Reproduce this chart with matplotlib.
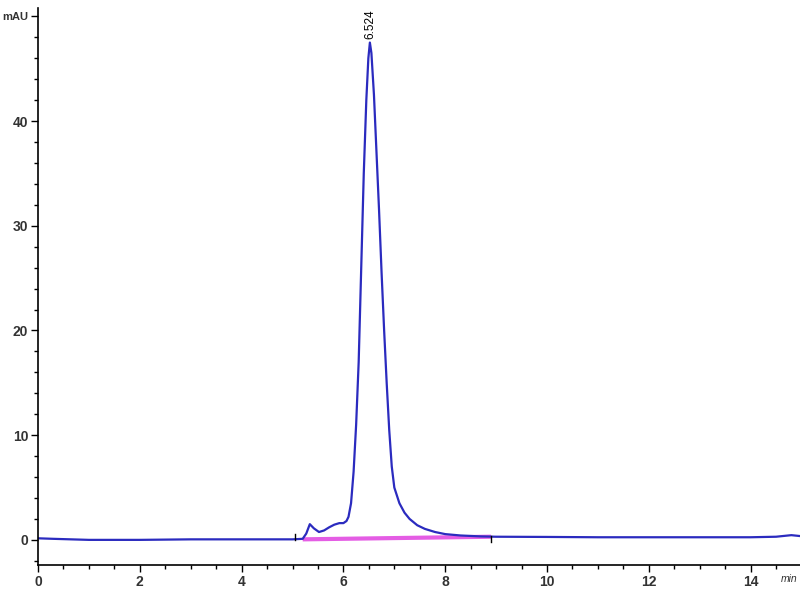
import matplotlib.pyplot as plt
from matplotlib.ticker import MultipleLocator

# retention time (min) and signal (mAU)
time_min = [0.0, 0.3, 1.0, 2.0, 3.0, 4.0, 5.0, 5.2, 5.27, 5.34, 5.42, 5.52, 5.62,
            5.72, 5.82, 5.92, 6.0, 6.06, 6.1, 6.15, 6.2, 6.25, 6.3, 6.35, 6.4,
            6.45, 6.49, 6.52, 6.55, 6.6, 6.65, 6.7, 6.75, 6.8, 6.85, 6.9, 6.95,
            7.0, 7.1, 7.2, 7.3, 7.45, 7.6, 7.8, 8.0, 8.3, 8.7, 9.0, 10.0, 11.0,
            12.0, 13.0, 14.0, 14.5, 14.8, 15.0]
signal_mau = [0.15, 0.1, 0.0, 0.0, 0.05, 0.05, 0.05, 0.1, 0.6, 1.5, 1.1, 0.75, 0.9,
              1.2, 1.45, 1.6, 1.6, 1.8, 2.2, 3.5, 6.5, 11, 17, 26, 35,
              42, 46, 47.5, 46.5, 42.5, 37, 31.5, 25.5, 20, 15, 10.5, 7,
              5.0, 3.5, 2.6, 2.0, 1.4, 1.05, 0.75, 0.55, 0.42, 0.33, 0.3, 0.28, 0.25,
              0.25, 0.25, 0.25, 0.3, 0.45, 0.35]

# integration baseline and markers
base_t = [5.2, 8.9]
base_y = [0.05, 0.3]
peak_rt = 6.524
peak_top = 47.5

fig = plt.figure(figsize=(8, 6), dpi=100)
ax = fig.add_axes([38 / 800, 35 / 600, 762 / 800, 557 / 600])

ax.plot(base_t, base_y, color="#e040e0", lw=3, alpha=0.85, solid_capstyle="butt")
ax.plot(time_min, signal_mau, color="#2b2bbf", lw=1.6)

# integration start/stop ticks
ax.plot([5.05, 5.05], [0.0, 0.55], color="black", lw=1)
ax.plot([8.9, 8.9], [-0.25, 0.35], color="black", lw=1)

ax.text(peak_rt, peak_top + 0.3, "6.524", rotation=90, ha="center", va="bottom",
        fontsize=8.5, color="black", family="Liberation Sans")

ax.set_xlim(0, 14.97)
ax.set_ylim(-2.4, 50.8)
ax.xaxis.set_major_locator(MultipleLocator(2))
ax.xaxis.set_minor_locator(MultipleLocator(0.5))
ax.set_yticks([0, 10, 20, 30, 40, 50])
ax.set_yticklabels(["0", "10", "20", "30", "40", "mAU"])
ax.yaxis.set_minor_locator(MultipleLocator(2))

for s in ["top", "right"]:
    ax.spines[s].set_visible(False)
ax.spines["left"].set_linewidth(1.2)
ax.spines["bottom"].set_linewidth(1.2)
ax.tick_params(which="major", length=5, width=1, labelsize=10, pad=2)
ax.tick_params(which="minor", length=3, width=1)
for lab in ax.get_xticklabels() + ax.get_yticklabels():
    lab.set_family("Liberation Sans")
    lab.set_fontweight("bold")
    lab.set_color("#333333")
for lab in ax.get_yticklabels()[-1:]:
    lab.set_fontsize(8)

ax.text(14.6, -3.7, "min", fontsize=7.5, style="italic", family="Liberation Sans",
        color="#333333", ha="left", va="center", clip_on=False)

fig.savefig("out.png", dpi=100)
